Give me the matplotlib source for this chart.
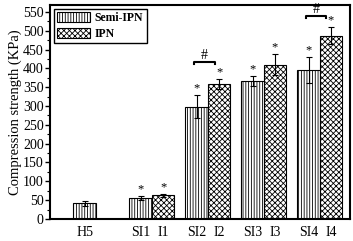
import matplotlib
matplotlib.use("Agg")
import matplotlib.pyplot as plt
import numpy as np

plt.rcParams['font.family'] = ['Liberation Serif', 'DejaVu Serif']
plt.rcParams['hatch.linewidth'] = 0.6

# data
groups = [0, 1, 2, 3, 4]
semi_labels = ['H5', 'SI1', 'SI2', 'SI3', 'SI4']
ipn_labels = ['I1', 'I2', 'I3', 'I4']
semi_vals = [42, 56, 298, 366, 395]
semi_err = [7, 5, 30, 14, 35]
ipn_vals = [63, 358, 409, 487]
ipn_err = [4, 13, 28, 22]
semi_star = [False, True, True, True, True]
hash_groups = [2, 4]
hash_heights = [417, 539]

w = 0.4
semi_x = np.array(groups) - w / 2
ipn_x = np.array(groups[1:]) + w / 2

fig = plt.figure(figsize=(3.53, 2.41), dpi=100)
ax = fig.add_axes([0.1416, 0.0913, 0.8499, 0.8877])

ax.bar(semi_x, semi_vals, width=w, color='white', edgecolor='black',
       hatch='||||||', linewidth=0.8, label='Semi-IPN')
ax.bar(ipn_x, ipn_vals, width=w, color='white', edgecolor='black',
       hatch='xxxxxx', linewidth=0.8, label='IPN')
ax.errorbar(semi_x, semi_vals, yerr=semi_err, fmt='none', ecolor='black',
            elinewidth=0.8, capsize=2.5, capthick=0.8)
ax.errorbar(ipn_x, ipn_vals, yerr=ipn_err, fmt='none', ecolor='black',
            elinewidth=0.8, capsize=2.5, capthick=0.8)

# significance marks
for x, v, e, s in zip(semi_x, semi_vals, semi_err, semi_star):
    if s:
        ax.text(x, v + e + 2, '*', ha='center', va='bottom', fontsize=9)
for x, v, e in zip(ipn_x, ipn_vals, ipn_err):
    ax.text(x, v + e + 2, '*', ha='center', va='bottom', fontsize=9)

for g, top in zip(hash_groups, hash_heights):
    x0, x1 = g - 0.25, g + 0.12
    ax.plot([x0, x0, x1, x1], [top - 5, top, top, top - 5], color='black', lw=1.5)
    ax.text((x0 + x1) / 2, top + 16, '#', ha='center', va='center', fontsize=10)

ax.set_xlim(-0.82, 4.54)
ax.set_ylim(0, 568)
ax.set_yticks(np.arange(0, 551, 50))
ax.set_yticks(np.arange(0, 551, 25), minor=True)
ax.set_xticks(list(semi_x) + list(ipn_x))
ax.set_xticklabels(semi_labels + ipn_labels)
ax.tick_params(axis='x', length=0, labelsize=10, pad=5)
ax.tick_params(axis='y', which='major', direction='out', length=3.5, width=1, labelsize=10, pad=1)
ax.tick_params(axis='y', which='minor', direction='out', length=2, width=0.8)
for sp in ax.spines.values():
    sp.set_linewidth(1.5)

ax.set_ylabel('Compression strength (KPa)', fontsize=10.5, labelpad=1)

ax.legend(loc='upper left', prop={'weight': 'bold', 'size': 8.5},
          fancybox=False, edgecolor='black', framealpha=1,
          handlelength=2.8, handleheight=0.9, borderaxespad=0.3,
          borderpad=0.3, labelspacing=0.3, handletextpad=0.4)

fig.savefig('out.png', dpi=100)
